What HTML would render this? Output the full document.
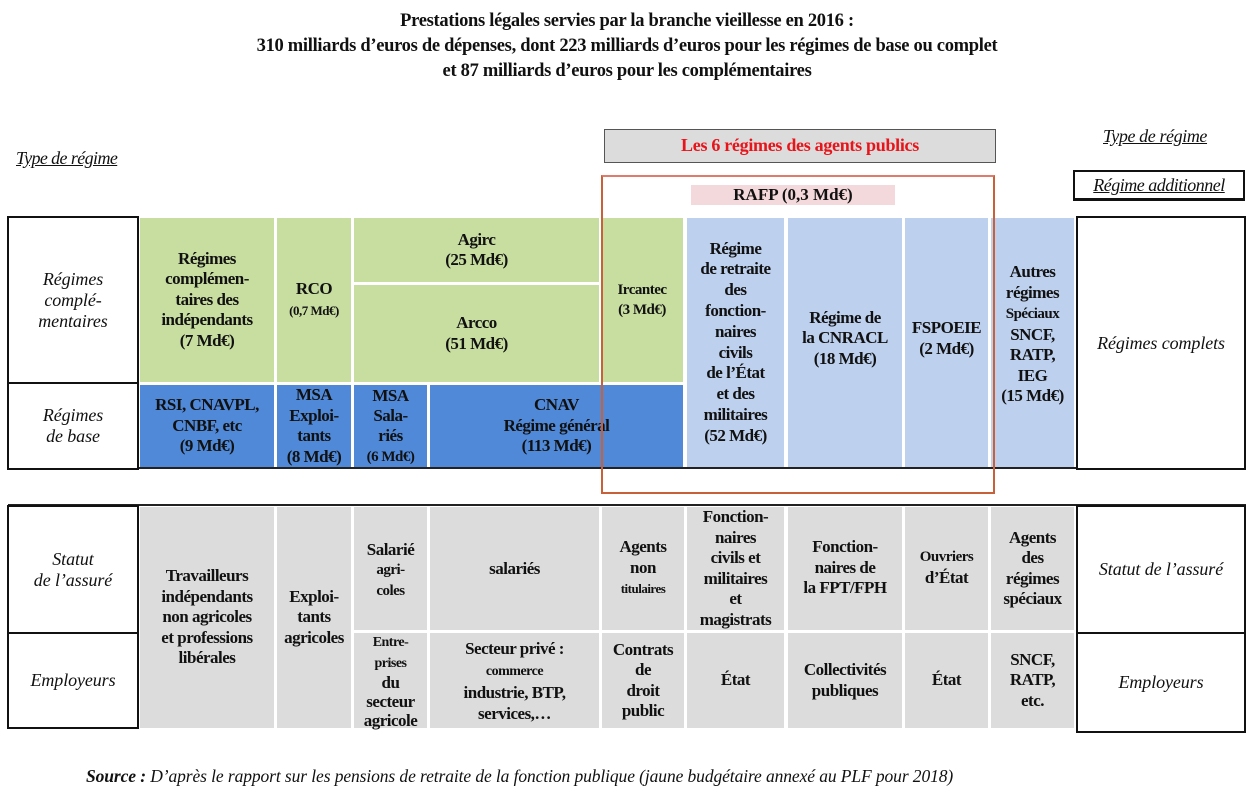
<!DOCTYPE html>
<html><head><meta charset="utf-8"><style>
body{margin:0;width:1254px;height:796px;background:#fff;position:relative;overflow:hidden;font-family:"Liberation Serif",serif;color:#111}
.a{position:absolute;box-sizing:border-box}
.c{position:absolute;box-sizing:border-box;display:flex;align-items:center;justify-content:center;text-align:center;font-weight:bold;font-size:17px;line-height:20.5px;letter-spacing:-0.5px}
.c>div{white-space:nowrap}
.g{background:#c8dea1}.b{background:#5089d8}.l{background:#bdd0ee}.y{background:#dcdcdc}
.h{position:absolute;box-sizing:border-box;border:2px solid #111;background:#fff;display:flex;align-items:center;justify-content:center;text-align:center;font-style:italic;font-size:18px;line-height:21px;letter-spacing:-0.1px}
.s{font-size:13px}
.t{position:absolute;width:1254px;left:0;text-align:center;font-weight:bold;font-size:18.5px;letter-spacing:-0.3px}
</style></head><body>
<div class="t" style="top:11px">Prestations légales servies par la branche vieillesse en 2016 :</div>
<div class="t" style="top:36px">310 milliards d’euros de dépenses, dont 223 milliards d’euros pour les régimes de base ou complet</div>
<div class="t" style="top:61px">et 87 milliards d’euros pour les complémentaires</div>

<div class="a" style="left:16px;top:148px;font-style:italic;font-size:18px;letter-spacing:-0.6px;text-decoration:underline">Type de régime</div>
<div class="a" style="left:1103px;top:126px;font-style:italic;font-size:18px;letter-spacing:-0.4px;text-decoration:underline">Type de régime</div>
<div class="a" style="left:1073px;top:170px;width:172px;height:31px;border:2px solid #111;border-bottom-width:3px;font-style:italic;font-size:18px;letter-spacing:-0.5px;text-align:center;line-height:26px;text-decoration:underline">Régime additionnel</div>

<div class="a" style="left:604px;top:129px;width:392px;height:34px;background:#dcdcdc;border:1.5px solid #555;color:#e8141a;font-weight:bold;font-size:18px;letter-spacing:-0.3px;text-align:center;line-height:31px">Les 6 régimes des agents publics</div>
<div class="a" style="left:691px;top:185px;width:204px;height:20px;background:#f4d9dc;font-weight:bold;font-size:17px;text-align:center;line-height:20px">RAFP (0,3 Md€)</div>

<div class="a" style="left:8px;top:467px;width:1238px;height:2px;background:#222"></div>
<div class="h" style="left:7px;top:216px;width:132px;height:168px"><div>Régimes<br>complé-<br>mentaires</div></div>
<div class="h" style="left:7px;top:382px;width:132px;height:88px"><div>Régimes<br>de base</div></div>
<div class="c g" style="left:140px;top:218px;width:134px;height:164px"><div>Régimes<br>complémen-<br>taires des<br>indépendants<br>(7 Md€)</div></div>
<div class="c g" style="left:277px;top:218px;width:74px;height:164px"><div>RCO<br><span class="s">(0,7 Md€)</span></div></div>
<div class="c g" style="left:354px;top:218px;width:245px;height:64px"><div>Agirc<br>(25 Md€)</div></div>
<div class="c g" style="left:354px;top:285px;width:245px;height:97px"><div>Arcco<br>(51 Md€)</div></div>
<div class="c g" style="left:601px;top:218px;width:82px;height:164px;font-size:15px"><div>Ircantec<br>(3 Md€)</div></div>
<div class="c b" style="left:140px;top:385px;width:134px;height:82px"><div>RSI, CNAVPL,<br>CNBF, etc<br>(9 Md€)</div></div>
<div class="c b" style="left:277px;top:385px;width:74px;height:82px"><div>MSA<br>Exploi-<br>tants<br>(8 Md€)</div></div>
<div class="c b" style="left:354px;top:385px;width:73px;height:82px;line-height:20px"><div>MSA<br>Sala-<br>riés<br><span style="font-size:15px">(6 Md€)</span></div></div>
<div class="c b" style="left:430px;top:385px;width:253px;height:82px"><div>CNAV<br>Régime général<br>(113 Md€)</div></div>
<div class="c l" style="left:687px;top:218px;width:97px;height:249px;line-height:20.8px"><div>Régime<br>de retraite<br>des<br>fonction-<br>naires<br>civils<br>de l’État<br>et des<br>militaires<br>(52 Md€)</div></div>
<div class="c l" style="left:788px;top:218px;width:114px;height:249px;padding-bottom:8px"><div>Régime de<br>la CNRACL<br>(18 Md€)</div></div>
<div class="c l" style="left:905px;top:218px;width:83px;height:249px;padding-bottom:8px"><div>FSPOEIE<br>(2 Md€)</div></div>
<div class="c l" style="left:991px;top:218px;width:83px;height:249px;padding-bottom:16px"><div>Autres<br>régimes<br><span style="font-size:15px">Spéciaux</span><br>SNCF,<br>RATP,<br>IEG<br>(15 Md€)</div></div>
<div class="h" style="left:1076px;top:216px;width:170px;height:254px"><div>Régimes complets</div></div>

<div class="a" style="left:601px;top:175px;width:394px;height:319px;border:2px solid #c8603a;border-top-color:#e07a6a"></div>

<div class="a" style="left:8px;top:504px;width:1238px;height:2px;background:#222"></div>
<div class="h" style="left:7px;top:505px;width:132px;height:129px"><div>Statut<br>de l’assuré</div></div>
<div class="h" style="left:7px;top:632px;width:132px;height:97px"><div>Employeurs</div></div>
<div class="c y" style="left:140px;top:507px;width:134px;height:221px"><div>Travailleurs<br>indépendants<br>non agricoles<br>et professions<br>libérales</div></div>
<div class="c y" style="left:277px;top:507px;width:74px;height:221px"><div>Exploi-<br>tants<br>agricoles</div></div>
<div class="c y" style="left:354px;top:507px;width:73px;height:123px;align-items:flex-start;padding-top:33px;line-height:19px"><div>Salarié<br><span style="font-size:15px">agri-<br>coles</span></div></div>
<div class="c y" style="left:354px;top:633px;width:73px;height:95px;line-height:19px"><div><span style="font-size:14px">Entre-<br>prises</span><br>du<br>secteur<br>agricole</div></div>
<div class="c y" style="left:430px;top:507px;width:169px;height:123px;align-items:flex-start;padding-top:52px"><div>salariés</div></div>
<div class="c y" style="left:430px;top:633px;width:169px;height:95px;line-height:21px"><div>Secteur privé :<br><span style="font-size:14px">commerce</span><br>industrie, BTP,<br>services,…</div></div>
<div class="c y" style="left:602px;top:507px;width:82px;height:123px"><div>Agents<br>non<br><span class="s">titulaires</span></div></div>
<div class="c y" style="left:602px;top:633px;width:82px;height:95px"><div>Contrats<br>de<br>droit<br>public</div></div>
<div class="c y" style="left:687px;top:507px;width:97px;height:123px"><div>Fonction-<br>naires<br>civils et<br>militaires<br>et<br>magistrats</div></div>
<div class="c y" style="left:687px;top:633px;width:97px;height:95px"><div>État</div></div>
<div class="c y" style="left:788px;top:507px;width:114px;height:123px;align-items:flex-start;padding-top:30px"><div>Fonction-<br>naires de<br>la FPT/FPH</div></div>
<div class="c y" style="left:788px;top:633px;width:114px;height:95px"><div>Collectivités<br>publiques</div></div>
<div class="c y" style="left:905px;top:507px;width:83px;height:123px;align-items:flex-start;padding-top:40px;font-size:15px"><div>Ouvriers<br><span style="font-size:17px">d’État</span></div></div>
<div class="c y" style="left:905px;top:633px;width:83px;height:95px"><div>État</div></div>
<div class="c y" style="left:991px;top:507px;width:83px;height:123px"><div>Agents<br>des<br>régimes<br>spéciaux</div></div>
<div class="c y" style="left:991px;top:633px;width:83px;height:95px"><div>SNCF,<br>RATP,<br>etc.</div></div>
<div class="h" style="left:1076px;top:505px;width:170px;height:129px"><div>Statut de l’assuré</div></div>
<div class="h" style="left:1076px;top:632px;width:170px;height:101px"><div>Employeurs</div></div>

<div class="a" style="left:86px;top:766px;font-size:17.5px;letter-spacing:-0.1px;font-style:italic;white-space:nowrap"><b>Source :</b> D’après le rapport sur les pensions de retraite de la fonction publique (jaune budgétaire annexé au PLF pour 2018)</div>
</body></html>
